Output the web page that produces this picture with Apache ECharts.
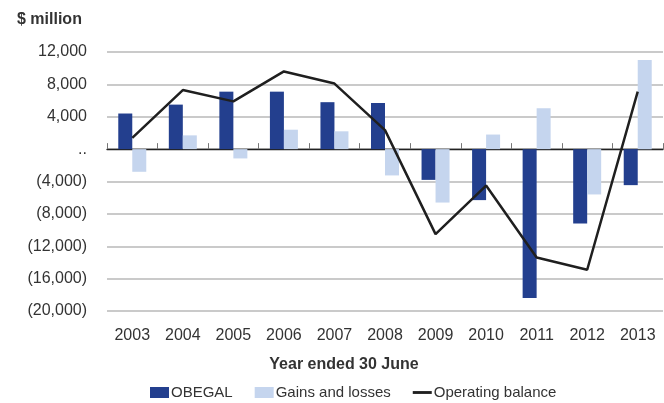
<!DOCTYPE html>
<html>
<head>
<meta charset="utf-8">
<script src="https://cdn.jsdelivr.net/npm/echarts@6/dist/echarts.min.js"></script>
<style>
  html, body { margin: 0; padding: 0; background: #fff; }
  #chart { width: 664px; height: 403px; }
</style>
</head>
<body>
<div id="chart"></div>
<script>
const years = ["2003", "2004", "2005", "2006", "2007", "2008", "2009", "2010", "2011", "2012", "2013"];
const obegal = [4400, 5500, 7100, 7100, 5800, 5700, -3800, -6300, -18400, -9200, -4450];
const gainsLosses = [-2800, 1700, -1150, 2400, 2200, -3250, -6600, 1800, 5050, -5600, 11000];
const operatingBalance = [1400, 7300, 5900, 9600, 8100, 2350, -10500, -4500, -13400, -14900, 7100];

const textColor = "#333";
const font = "Liberation Sans";

const fmtNum = (v) => v.toLocaleString("en-US");
const yLabel = (v) => {
  if (v === 0) return "..";
  if (v < 0) return "(" + fmtNum(-v) + ")";
  return fmtNum(v);
};

const chart = echarts.init(document.getElementById("chart"));

const option = {
  animation: false,
  textStyle: { fontFamily: font, color: textColor },
  grid: { left: 107, right: 1, top: 52, bottom: 92, containLabel: false },
  graphic: [
    {
      type: "text",
      left: 17,
      top: 12,
      style: { text: "$ million", fontSize: 16, fontWeight: "bold", fill: textColor, fontFamily: font },
    },
    {
      type: "text",
      x: 344,
      y: 365,
      style: {
        text: "Year ended 30 June",
        fontSize: 16,
        fontWeight: "bold",
        fill: textColor,
        fontFamily: font,
        align: "center",
        verticalAlign: "middle",
      },
    },
  ],
  legend: {
    left: 145,
    top: 380,
    itemWidth: 19,
    itemHeight: 11,
    itemGap: 22,
    textStyle: { fontSize: 15, color: textColor, fontFamily: font, padding: [0, 0, 0, -3] },
    data: [
      { name: "OBEGAL", icon: "rect" },
      { name: "Gains and losses", icon: "rect" },
      { name: "Operating balance", icon: "path://M0,0 H20 V3 H0 Z" },
    ],
  },
  xAxis: [
    {
      type: "category",
      data: years,
      position: "bottom",
      axisLine: { show: false, onZero: false },
      axisTick: { show: false },
      axisLabel: { fontSize: 16, color: textColor, margin: 17, fontFamily: font },
    },
    {
      type: "category",
      data: years,
      position: "bottom",
      axisLine: { show: true, onZero: true, lineStyle: { color: "#222", width: 1.3 } },
      axisTick: { show: true, inside: true, length: 6, lineStyle: { color: "#777" } },
      axisLabel: { show: false },
    },
  ],
  yAxis: {
    type: "value",
    min: -20000,
    max: 12000,
    interval: 4000,
    axisLine: { show: false },
    axisTick: { show: false },
    axisLabel: { formatter: yLabel, fontSize: 16, color: textColor, margin: 20, fontFamily: font },
    splitLine: { show: true, lineStyle: { color: "#b8b8b8", width: 1.5 } },
  },
  series: [
    {
      name: "OBEGAL",
      type: "bar",
      data: obegal,
      barWidth: 14,
      barGap: "0%",
      itemStyle: { color: "#233f8e" },
    },
    {
      name: "Gains and losses",
      type: "bar",
      data: gainsLosses,
      barWidth: 14,
      barGap: "0%",
      itemStyle: { color: "#c5d5ee" },
    },
    {
      name: "Operating balance",
      type: "line",
      data: operatingBalance,
      symbol: "none",
      lineStyle: { color: "#1f1f1f", width: 2.5 },
      itemStyle: { color: "#1f1f1f" },
      z: 5,
    },
  ],
};

chart.setOption(option);
</script>
</body>
</html>
